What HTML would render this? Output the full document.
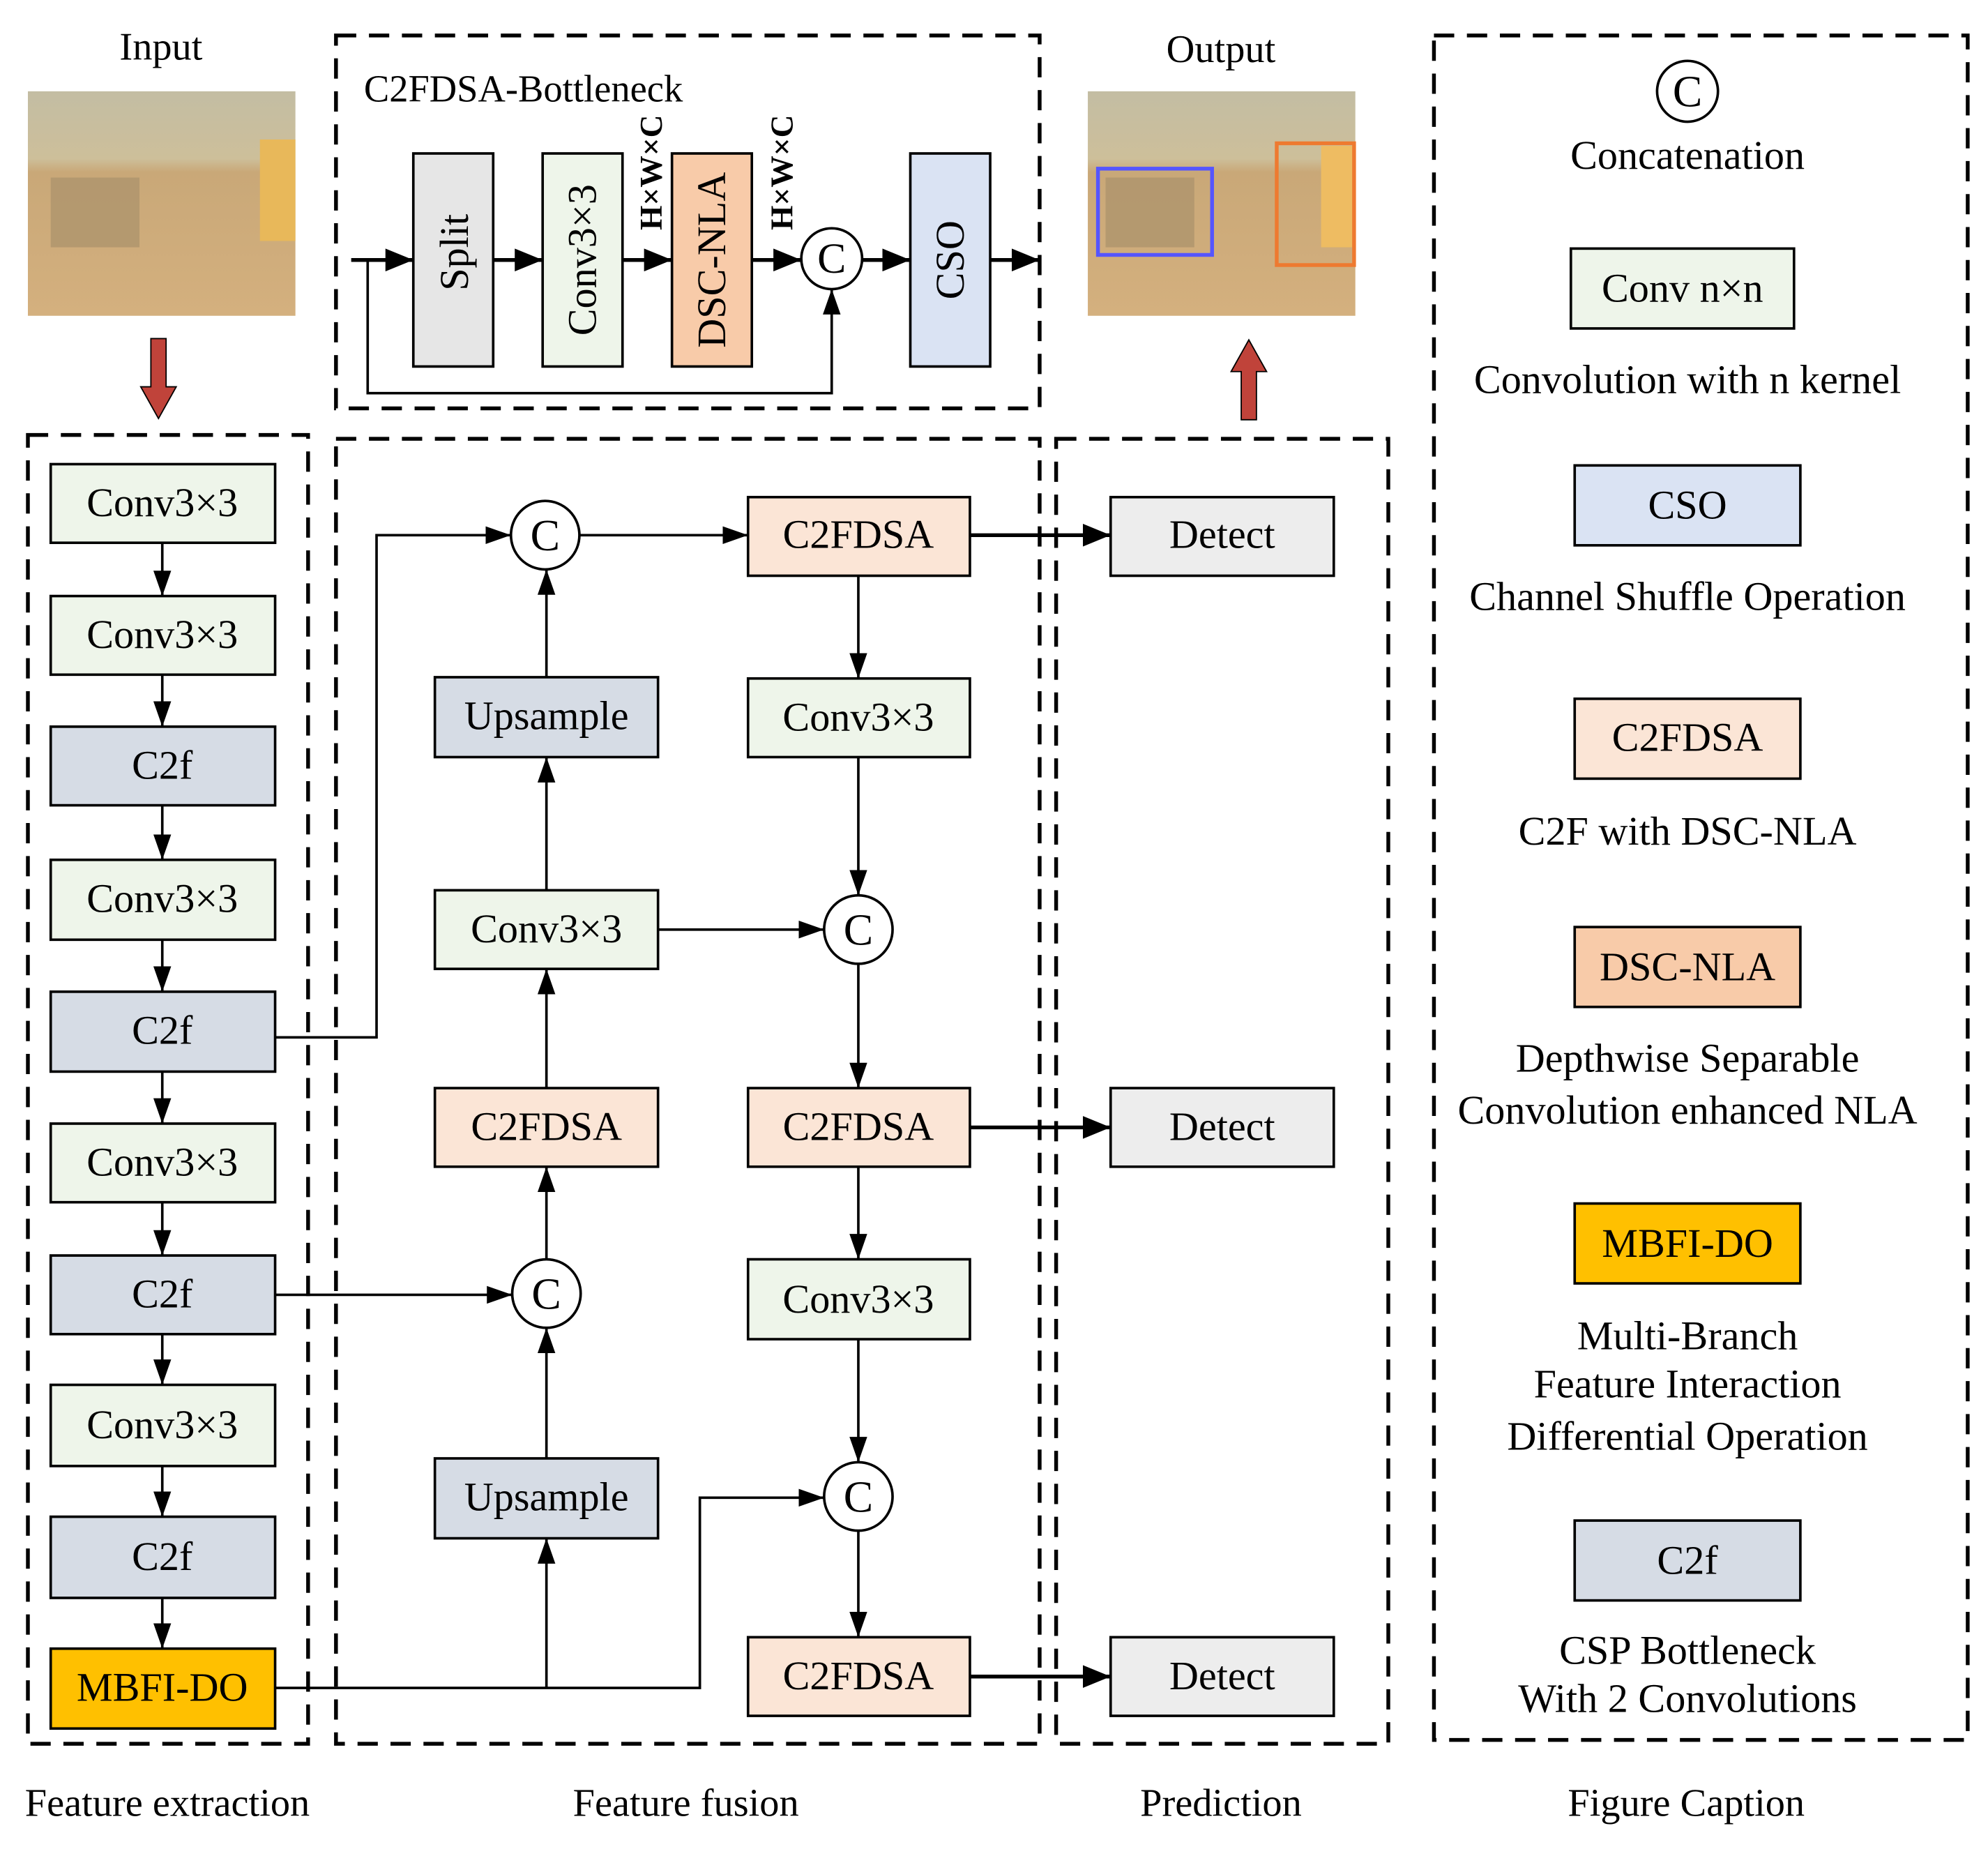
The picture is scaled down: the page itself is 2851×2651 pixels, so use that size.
<!DOCTYPE html>
<html><head><meta charset="utf-8"><style>html,body{margin:0;padding:0;background:#fff}svg{display:block}svg text{font-family:"Liberation Serif","DejaVu Serif",serif}</style></head><body>
<svg width="2851" height="2651" viewBox="0 0 1568 1458" preserveAspectRatio="none" xmlns="http://www.w3.org/2000/svg">
<defs>
<marker id="b" markerWidth="22" markerHeight="18" refX="22" refY="9" orient="auto" markerUnits="userSpaceOnUse"><path d="M0,0 L22,9 L0,18 z" fill="#000"/></marker>
<marker id="s" markerWidth="20" markerHeight="14" refX="20" refY="7" orient="auto" markerUnits="userSpaceOnUse"><path d="M0,0 L20,7 L0,14 z" fill="#000"/></marker>
<linearGradient id="img" x1="0" y1="0" x2="0" y2="1"><stop offset="0" stop-color="#c3bda3"/><stop offset="0.3" stop-color="#cdbf9a"/><stop offset="0.36" stop-color="#c9a878"/><stop offset="1" stop-color="#d4b07e"/></linearGradient>
</defs>
<g fill="none" stroke="#000" stroke-width="3" stroke-dasharray="16 10">
<rect x="265" y="28" width="555" height="294"/>
<rect x="22" y="343" width="221" height="1032"/>
<rect x="265" y="346" width="555" height="1029"/>
<rect x="833" y="346" width="262" height="1029"/>
<rect x="1131" y="28" width="421" height="1344"/>
</g>
<g font-size="31" text-anchor="middle">
<text x="127" y="47">Input</text>
<text x="963" y="49">Output</text>
<text x="132" y="1432">Feature extraction</text>
<text x="541" y="1432">Feature fusion</text>
<text x="963" y="1432">Prediction</text>
<text x="1330" y="1432">Figure Caption</text>
</g>
<rect x="22" y="72" width="211" height="177" fill="url(#img)"/>
<rect x="205" y="110" width="28" height="80" fill="#e8b85a"/>
<rect x="40" y="140" width="70" height="55" fill="#a9926b" opacity="0.7"/>
<rect x="858" y="72" width="211" height="177" fill="url(#img)"/>
<rect x="1042" y="115" width="26" height="80" fill="#eebc62"/>
<rect x="872" y="140" width="70" height="55" fill="#a9926b" opacity="0.7"/>
<rect x="866" y="133" width="90" height="68" fill="none" stroke="#5555ff" stroke-width="3"/>
<rect x="1007" y="113" width="61" height="96" fill="none" stroke="#ee7a30" stroke-width="3"/>
<path d="M119,267 H131 V305 H139 L125,330 L111,305 H119 Z" fill="#c0433a" stroke="#000" stroke-width="1"/>
<path d="M979,331 H991 V293 H999 L985,268 L971,293 H979 Z" fill="#c0433a" stroke="#000" stroke-width="1"/>
<text x="287" y="80" font-size="30">C2FDSA-Bottleneck</text>
<g stroke="#000" stroke-width="2">
<rect x="326" y="121" width="63" height="168" fill="#e6e6e6"/>
<rect x="428" y="121" width="63" height="168" fill="#eef5ea"/>
<rect x="530" y="121" width="63" height="168" fill="#f8cba9"/>
<rect x="718" y="121" width="63" height="168" fill="#dae3f3"/>
<circle cx="656" cy="204" r="24" fill="#fff"/>
</g>
<g font-size="32" text-anchor="middle">
<text transform="translate(369,199) rotate(-90)">Split</text>
<text transform="translate(470,205) rotate(-90)">Conv3×3</text>
<text transform="translate(572,205) rotate(-90)">DSC-NLA</text>
<text transform="translate(760,205) rotate(-90)">CSO</text>
<text x="656" y="215" font-size="34">C</text>
<text transform="translate(522,136) rotate(-90)" font-weight="bold" font-size="25">H×W×C</text>
<text transform="translate(625,136) rotate(-90)" font-weight="bold" font-size="25">H×W×C</text>
</g>
<g stroke="#000" stroke-width="3" fill="none">
<line x1="277" y1="205" x2="326" y2="205" marker-end="url(#b)"/>
<line x1="389" y1="205" x2="428" y2="205" marker-end="url(#b)"/>
<line x1="491" y1="205" x2="530" y2="205" marker-end="url(#b)"/>
<line x1="593" y1="205" x2="632" y2="205" marker-end="url(#b)"/>
<line x1="680" y1="205" x2="718" y2="205" marker-end="url(#b)"/>
<line x1="781" y1="205" x2="820" y2="205" marker-end="url(#b)"/>
</g>
<path d="M290,205 V310 H656 V228" stroke="#000" stroke-width="2" fill="none" marker-end="url(#s)"/>
<g stroke="#000" stroke-width="2">
<rect x="40" y="366" width="177" height="62" fill="#eef5ea"/>
<rect x="40" y="470" width="177" height="62" fill="#eef5ea"/>
<rect x="40" y="573" width="177" height="62" fill="#d6dce5"/>
<rect x="40" y="678" width="177" height="63" fill="#eef5ea"/>
<rect x="40" y="782" width="177" height="63" fill="#d6dce5"/>
<rect x="40" y="886" width="177" height="62" fill="#eef5ea"/>
<rect x="40" y="990" width="177" height="62" fill="#d6dce5"/>
<rect x="40" y="1092" width="177" height="64" fill="#eef5ea"/>
<rect x="40" y="1196" width="177" height="64" fill="#d6dce5"/>
<rect x="40" y="1300" width="177" height="63" fill="#ffc000"/>
</g>
<g font-size="32" text-anchor="middle">
<text x="128" y="407">Conv3×3</text>
<text x="128" y="511">Conv3×3</text>
<text x="128" y="614">C2f</text>
<text x="128" y="719">Conv3×3</text>
<text x="128" y="823">C2f</text>
<text x="128" y="927">Conv3×3</text>
<text x="128" y="1031">C2f</text>
<text x="128" y="1134">Conv3×3</text>
<text x="128" y="1238">C2f</text>
<text x="128" y="1341">MBFI-DO</text>
</g>
<g stroke="#000" stroke-width="2" fill="none" marker-end="url(#s)">
<line x1="128" y1="428" x2="128" y2="470"/>
<line x1="128" y1="532" x2="128" y2="573"/>
<line x1="128" y1="635" x2="128" y2="678"/>
<line x1="128" y1="741" x2="128" y2="782"/>
<line x1="128" y1="845" x2="128" y2="886"/>
<line x1="128" y1="948" x2="128" y2="990"/>
<line x1="128" y1="1052" x2="128" y2="1092"/>
<line x1="128" y1="1156" x2="128" y2="1196"/>
<line x1="128" y1="1260" x2="128" y2="1300"/>
</g>
<g stroke="#000" stroke-width="2">
<rect x="343" y="534" width="176" height="63" fill="#d6dce5"/>
<rect x="343" y="702" width="176" height="62" fill="#eef5ea"/>
<rect x="343" y="858" width="176" height="62" fill="#fbe5d6"/>
<rect x="343" y="1150" width="176" height="63" fill="#d6dce5"/>
<rect x="590" y="392" width="175" height="62" fill="#fbe5d6"/>
<rect x="590" y="535" width="175" height="62" fill="#eef5ea"/>
<rect x="590" y="858" width="175" height="62" fill="#fbe5d6"/>
<rect x="590" y="993" width="175" height="63" fill="#eef5ea"/>
<rect x="590" y="1291" width="175" height="62" fill="#fbe5d6"/>
<rect x="876" y="392" width="176" height="62" fill="#ededed"/>
<rect x="876" y="858" width="176" height="62" fill="#ededed"/>
<rect x="876" y="1291" width="176" height="62" fill="#ededed"/>
<circle cx="430" cy="422" r="27" fill="#fff"/>
<circle cx="431" cy="1020" r="27" fill="#fff"/>
<circle cx="677" cy="733" r="27" fill="#fff"/>
<circle cx="677" cy="1180" r="27" fill="#fff"/>
</g>
<g font-size="32" text-anchor="middle">
<text x="431" y="575">Upsample</text>
<text x="431" y="743">Conv3×3</text>
<text x="431" y="899">C2FDSA</text>
<text x="431" y="1191">Upsample</text>
<text x="677" y="432">C2FDSA</text>
<text x="677" y="576">Conv3×3</text>
<text x="677" y="899">C2FDSA</text>
<text x="677" y="1035">Conv3×3</text>
<text x="677" y="1332">C2FDSA</text>
<text x="964" y="432">Detect</text>
<text x="964" y="899">Detect</text>
<text x="964" y="1332">Detect</text>
<g font-size="35"><text x="430" y="434">C</text><text x="431" y="1032">C</text><text x="677" y="745">C</text><text x="677" y="1192">C</text></g>
</g>
<g stroke="#000" stroke-width="2" fill="none" marker-end="url(#s)">
<path d="M217,818 H297 V422 H403"/>
<line x1="217" y1="1021" x2="404" y2="1021"/>
<path d="M217,1331 H552 V1181 H650"/>
<line x1="431" y1="1331" x2="431" y2="1213"/>
<line x1="431" y1="1150" x2="431" y2="1047"/>
<line x1="431" y1="993" x2="431" y2="920"/>
<line x1="431" y1="858" x2="431" y2="764"/>
<line x1="431" y1="702" x2="431" y2="597"/>
<line x1="431" y1="534" x2="431" y2="449"/>
<line x1="457" y1="422" x2="590" y2="422"/>
<line x1="519" y1="733" x2="650" y2="733"/>
<line x1="677" y1="454" x2="677" y2="535"/>
<line x1="677" y1="597" x2="677" y2="706"/>
<line x1="677" y1="760" x2="677" y2="858"/>
<line x1="677" y1="920" x2="677" y2="993"/>
<line x1="677" y1="1056" x2="677" y2="1153"/>
<line x1="677" y1="1207" x2="677" y2="1291"/>
</g>
<g stroke="#000" stroke-width="3" fill="none" marker-end="url(#b)">
<line x1="765" y1="422" x2="876" y2="422"/>
<line x1="765" y1="889" x2="876" y2="889"/>
<line x1="765" y1="1322" x2="876" y2="1322"/>
</g>
<g stroke="#000" stroke-width="2">
<circle cx="1331" cy="72" r="24" fill="#fff"/>
<rect x="1239" y="196" width="176" height="63" fill="#eef5ea"/>
<rect x="1242" y="367" width="178" height="63" fill="#dae3f3"/>
<rect x="1242" y="551" width="178" height="63" fill="#fbe5d6"/>
<rect x="1242" y="731" width="178" height="63" fill="#f8cba9"/>
<rect x="1242" y="949" width="178" height="63" fill="#ffc000"/>
<rect x="1242" y="1199" width="178" height="63" fill="#d6dce5"/>
</g>
<g font-size="32" text-anchor="middle">
<text x="1331" y="84" font-size="35">C</text>
<text x="1331" y="133">Concatenation</text>
<text x="1327" y="238">Conv n×n</text>
<text x="1331" y="310">Convolution with n kernel</text>
<text x="1331" y="409">CSO</text>
<text x="1331" y="481">Channel Shuffle Operation</text>
<text x="1331" y="592">C2FDSA</text>
<text x="1331" y="666">C2F with DSC-NLA</text>
<text x="1331" y="773">DSC-NLA</text>
<text x="1331" y="845">Depthwise Separable</text>
<text x="1331" y="886">Convolution enhanced NLA</text>
<text x="1331" y="991">MBFI-DO</text>
<text x="1331" y="1064">Multi-Branch</text>
<text x="1331" y="1102">Feature Interaction</text>
<text x="1331" y="1143">Differential Operation</text>
<text x="1331" y="1241">C2f</text>
<text x="1331" y="1312">CSP Bottleneck</text>
<text x="1331" y="1350">With 2 Convolutions</text>
</g>
</svg>
</body></html>
